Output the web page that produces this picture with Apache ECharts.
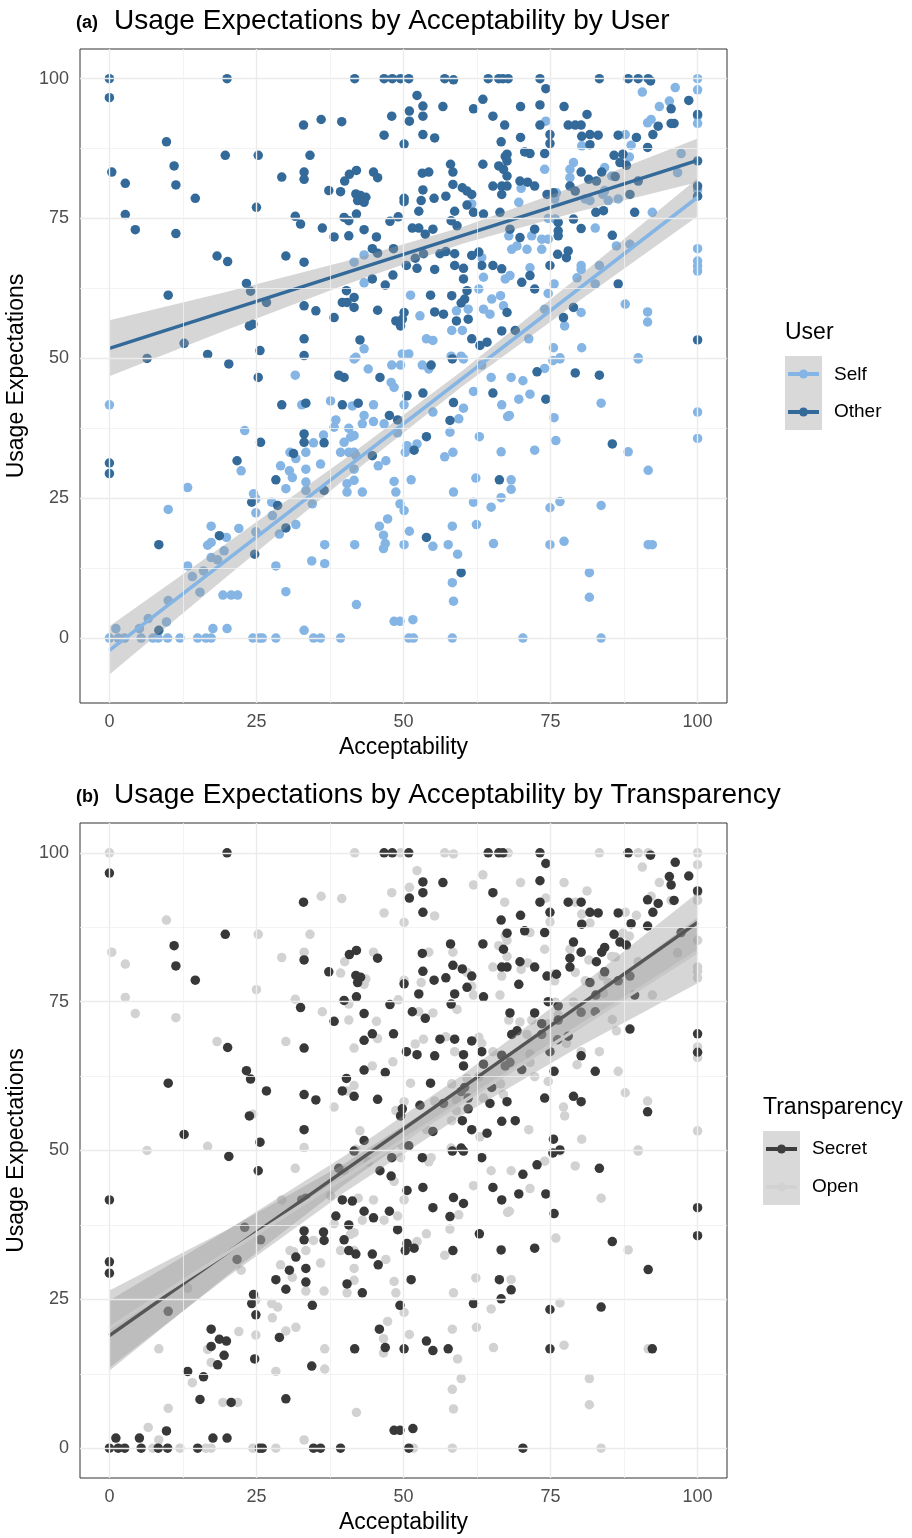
<!DOCTYPE html>
<html>
<head>
<meta charset="utf-8">
<script src="https://cdn.jsdelivr.net/npm/echarts@6/dist/echarts.min.js"></script>
<style>
html, body { margin: 0; padding: 0; background: #fff; }
#main { width: 912px; height: 1538px; }
</style>
</head>
<body>
<div id="main"></div>
<script>
// panel (a): points by user
let selfPts = [
    [61.6,77.6],[43.3,68.5],[41.6,67.2],[43.3,63.5],[51.2,61.3],[52.8,57.6],[53.9,53.5],[55,53.2],[58.2,55],[60,55],[59,58.5],[61,58.8],[62.8,62.4],[63.6,64.5],[63.3,68],[65,60.6],[66.5,61.2],[67.3,64.2],[63.6,58.8],[64.7,57.9],[67,59.4],[49.8,50.8],[50.9,50.8],[43.3,51.7],[41.9,50.2],[58.1,50.4],[59.8,50.4],
    [100,100],[100,98],[90.6,97.6],[96.2,98.4],[95.2,96],[93.5,95],[92.1,92.7],[91.5,92.1],[100,93.3],[100,92],[74.2,92.4],[80.3,88],[87.7,90],[88.7,88.1],[88.4,86],[97.2,86.6],[96.6,83.2],[78.9,85],[78.3,83.8],[78.3,82.3],[74,83.8],[84.2,84.1],[85.4,82.6],[84.2,80],[84.8,78.2],[86.5,78.5],[83.9,79.3],[69.6,77.9],[70,80.4],[76,79.6],[75.7,78.5],[74.6,75],[75.8,74.9],[80.9,78.5],[81.7,78.2],[92.3,76.1],[100,80.1],[82.6,73.3],[67.9,71.9],[69.3,70.1],[71,69.5],[68.4,69.5],[71.8,71.9],[73.5,71.3],[74.6,71.3],[73.5,69.5],[71.5,66.2],[68.1,64.8],[86.2,70.1],[88.5,70.4],[80.2,66.6],[80.2,65.9],[79.5,64.4],[75.6,63.3],[74.6,61.6],[82.6,63.3],[83.3,66.6],[100,69.6],[100,67.4],[100,66.5],[100,65.6],[80.2,58.2],[77.4,55.8],[74,58.8],[87.7,59.7],[91.5,58.3],[91.5,56.5],[71.3,53.5],[75.5,51.9],[80.3,51.9],[76.6,50.1],[89.9,50.1],
    [0,41.7],[31.6,47],[32.7,41.7],[23,37.1],[30.7,33.2],[31.7,32.1],[29.1,30.8],[30.6,29.9],[31.1,28.7],[30,26.7],[22.4,29.9],[13.3,26.9],[24.5,25.8],[24.9,24.9],[24.9,22.4],[27.6,24.3],[10,23],[27.7,21.9],[17.3,20],[22,19.6],[19.9,18],[16.7,16.6],[17.3,17.1],[31.7,20.3],[19.5,15.6],[17.3,14.4],[18.4,14],[24.9,19],[28.9,18.6],[13.3,12.9],[28.3,12.9],[16,12],[14.1,11],[15.4,8.2],[19.3,7.7],[20.7,7.7],[21.8,7.7],[30,8.3],[10,6.7],[6.6,3.5],[9.7,2.9],[1.1,1.7],[17.6,1.7],[20,1.7],[5.1,1.7],[33.1,1.4],
    [0,0],[1.5,0],[2.6,0],[5.4,0],[7.4,0],[8.3,0],[9.9,0],[12,0],[15,0],[16.4,0],[17.3,0],[24.4,0],[25.5,0],[26,0],[28.3,0],
    [41.6,49.9],[44,48.1],[47.9,45.7],[48.4,44.8],[48,48.8],[49.5,48.8],[53.2,48.8],[54.3,48.1],[60.2,49.9],[61.9,44.1],[63.3,48.8],[64.9,46.6],[66.7,41.7],[67.7,39.6],[37.6,42.4],[41.3,41.5],[44.9,41.7],[43.3,39.8],[43,38.3],[38.5,39],[38.2,37.7],[40.7,37.5],[41.6,36.2],[39.9,35],[41,35.9],[44.9,38.7],[46.7,38.3],[49,36.7],[50.1,41.7],[55,40.4],[59.4,39.2],[60.2,41.1],[57.9,36.8],[62.9,36],[34.7,34.9],[36.4,36.3],[39.3,33.2],[40.7,33.2],[41.6,33.2],[41.9,32.6],[33.4,33.2],[33.4,30.2],[35.9,31.1],[45.7,30.8],[47,31.7],[50.6,34.4],[52.3,34.7],[50.3,33.2],[57,32.4],[58.4,33.2],
    [41.6,30.2],[40.4,27.6],[41.6,28.2],[43,26.1],[40.4,26.1],[33.4,27.9],[33.4,26.4],[34.5,24],[48.4,28],[51.3,28.3],[48.7,26.1],[49.4,24],[50.1,22.8],[47.3,21.3],[45.9,20],[46.6,18.4],[46.9,16.9],[46.6,16],[50.1,16.7],[51,19.1],[55,16.4],[58.3,20],[57.6,16.7],[59.2,15],[58.5,26.1],[61.9,24.3],[62.4,20.3],[64.9,23.4],[66.6,25.1],[65.3,16.9],[66.6,33.3],[62.3,28.6],[36.6,16.7],[34.4,13.8],[36.6,13.3],[41.7,16.7],[42,6],[58.3,9.9],[58.5,6.6],[48.4,3],[49.4,3],[51.6,3.3],[34.7,0],[35.9,0],[39.3,0],[50.9,0],[51.7,0],[58.3,0],
    [68.3,46.6],[70.3,46],[74,48.2],[75.4,49.6],[76.6,49.9],[89.9,49.9],[69.6,42.7],[71.5,43.6],[68,39.8],[75.6,39.4],[83.6,42],[100,40.4],[100,35.7],[75.9,35.3],[72.3,33.6],[88.2,33.3],[91.6,30],[68.3,28.3],[68.3,26.6],[74.9,23.3],[76.6,24.4],[83.6,23.7],[74.9,16.7],[77.3,17.3],[91.6,16.7],[92.3,16.7],[81.6,11.7],[81.6,7.3],[70.3,0],[83.6,0]
];
let otherPts = [
    [0,100],[0,96.6],[20,100],[33,91.7],[9.7,88.7],[19.7,86.3],[25.3,86.3],[11,84.4],[0.4,83.3],[2.7,81.3],[11.3,81],[29.3,82.4],[33.1,83.3],[33.1,82],[14.6,78.6],[25,77],[2.7,75.7],[4.4,73],[11.3,72.3],[31.6,75.4],[32.5,74],[18.3,68.3],[20.1,67.3],[30,68.3],[33.1,67.2],[23.3,63.4],[24,62],[26.7,60],[10,61.3],[23.8,55.8],[24.4,56.1],[12.7,52.7],[16.7,50.7],[25.6,51.4],[6.4,50],[33.1,59.4],[33.1,53.5],[33.1,50.5],
    [41.7,100],[46.7,100],[48.1,100],[49.5,100],[50.9,100],[57,100],[58.5,99.8],[64.4,100],[66.2,100],[66.9,100],[67.8,100],[52.3,97],[53.3,95.1],[53.3,93.3],[51,94.2],[51,92.4],[48,93.3],[56.7,95],[63.5,96.3],[61.9,94.6],[65.2,93.3],[67.2,91.7],[36,92.7],[39.5,92.3],[46.7,89.9],[50.1,88.3],[53.3,90],[55.3,89.4],[66.6,88.7],[34.1,86.3],[40.8,82.9],[42,83.6],[40,81.7],[44.9,83.3],[45.6,82.3],[37.3,80],[39.3,79.8],[41.9,79.4],[42.7,79.1],[43.6,78.8],[42.2,78.2],[43.3,77.9],[50.1,78.6],[50.1,78],[53.3,80.1],[53,78.2],[55.2,78.6],[57.2,79],[58,84.7],[58.4,83.3],[53.2,83.1],[54.3,83.3],[63.5,84.7],[66.2,84.4],[67,83.8],[67.3,86.1],[58.4,81.1],[60,80.5],[60.8,79.9],[61.6,79.3],[65.2,80.8],[66.7,80.8],[66.7,79.3],
    [39.9,75.2],[40.7,74.6],[42,75.8],[36.2,73.3],[38.2,71.7],[40.7,71.9],[43.3,73],[45.4,71.7],[47.7,74.5],[49.1,75.3],[52.6,76.3],[51.5,73.3],[52.6,73.3],[53.7,72.2],[55,73.1],[58.7,76.3],[58.1,74.6],[59.1,73.7],[60.8,77.4],[61.9,76.1],[63.6,75.8],[66.4,76.1],[44.7,69.6],[45.6,68.8],[48.3,69.6],[50.5,66.6],[52,67.9],[52.3,66.1],[53.4,68.7],[55.3,65.9],[56.2,68.7],[57.2,69.1],[58.7,68.7],[58.7,66.6],[60.2,66.1],[61.6,68.4],[62.8,69],[63.3,66.6],[65.2,66.6],[66.7,66],[44.7,64.2],[46.9,63.1],[48.2,64.9],[60.2,64.2],[60.8,62.1],[60.4,60.6],[39.6,60],[40.4,60],[41.6,59.1],[41.6,60.9],[40.3,62.1],[35.1,58.5],[38.2,57.3],[45.6,58.6],[48.7,56.7],[49.8,57],[49.5,55.8],[50.1,58.2],[54.6,61.3],[55.3,58.3],[56.8,57.9],[58.2,61.2],[59.8,59.9],[59,56.7],[61,57],[61.6,53.5],[63,52.3],[64.2,52.9],[42.6,53.3],[66.7,54.9],
    [73.2,100],[83.3,100],[88.2,100],[89.9,100],[91.6,100],[92,99.6],[74.2,98.2],[69.9,95],[73.2,95.3],[77.3,95],[73.2,91.7],[81.2,93.6],[78,91.7],[79.2,91.7],[80.2,91.7],[74.9,90],[74.9,88.4],[69.9,89.5],[80.3,89.7],[81.7,90],[83.1,89.9],[81.7,88.2],[86.5,89.9],[89.6,89.5],[91.5,87.7],[92.4,90],[93.3,91.5],[95.5,94.6],[96,92],[95.5,92],[98.5,96.1],[100,93.6],[67.6,86.5],[67.6,85.3],[70.6,86.9],[71.5,86.6],[74,86.6],[85.8,86.3],[87.3,86.5],[86.8,85],[87.9,84.5],[100,85.3],[80.2,83.3],[81.5,82],[82.8,81.7],[83.7,83.3],[86,82.5],[69.8,81.7],[71.1,81.5],[72.3,80.8],[67.6,82.6],[67.6,80.8],[78.3,80.8],[79.2,79.9],[74.4,79.3],[75.5,79.6],[88.5,79.3],[89.9,81.7],[100,80.8],[100,79],
    [82.7,76.1],[84,76.4],[89.3,76.1],[68.1,73.1],[69.8,71.6],[72.3,73.1],[76.3,74.3],[76.3,72.8],[76.3,71.9],[78.9,74.9],[80.2,73.2],[85.5,72],[76.2,68.6],[77.7,68],[78,69.2],[74.9,66.6],[71.5,64.8],[70.1,63.6],[72.3,62.4],[86.5,63.3],[78.9,59.1],[67.6,58.2],[77.2,57.3],[69,55],[100,53.3],
    [20.3,49],[25.3,46.6],[29.3,41.7],[33.1,36.5],[33.1,35],[25.7,35],[0,31.3],[0,29.4],[21.7,31.7],[31.3,33],[28.3,28.3],[24.2,24.3],[28.6,23.7],[30,19.7],[18.7,18.3],[8.4,16.7],[24.7,15],[8.4,1.4],
    [39,47],[39.9,46.6],[46,46.6],[50.6,43.3],[53.3,43.8],[54.7,48.8],[58.3,49.9],[65.2,43.8],[39.6,41.7],[42.3,42],[33.4,42],[47.6,39.8],[49,39],[58.5,42.1],[57.9,38.9],[53.9,36],[44.7,32.6],[51.8,33.6],[36.5,34.9],[36.5,26.4],[66.3,28.3],[53.9,18],[59.8,11.7],
    [72.7,47.6],[79.2,47.4],[83.3,47],[74.2,42.7],[85.5,34.7]
];

// panel (b): the same answers, split by transparency
let secretPts = [
    [0,96.6],[20,100],[33,91.7],[19.7,86.3],[11,84.4],[11.3,81],[33.1,82],[14.6,78.6],[32.5,74],[20.1,67.3],[33.1,67.2],[23.3,63.4],[24,62],[26.7,60],[10,61.3],[23.8,55.8],[12.7,52.7],[25.6,51.4],[33.1,59.4],[33.1,53.5],
    [46.7,100],[48.1,100],[50.9,100],[64.4,100],[66.2,100],[66.9,100],[53.3,95.1],[53.3,93.3],[51,92.4],[56.7,95],[65.2,93.3],[53.3,90],[66.6,88.7],[40.8,82.9],[42,83.6],[45.6,82.3],[37.3,80],[41.9,79.4],[42.7,79.1],[42.2,78.2],[50.1,78],[53.3,80.1],[55.2,78.6],[57.2,79],[58,84.7],[53.2,83.1],[63.5,84.7],[67,83.8],[58.4,81.1],[60,80.5],[61.6,79.3],[66.7,80.8],
    [39.9,75.2],[42,75.8],[38.2,71.7],[43.3,73],[47.7,74.5],[52.6,76.3],[51.5,73.3],[53.7,72.2],[58.7,76.3],[58.1,74.6],[60.8,77.4],[63.6,75.8],[44.7,69.6],[48.3,69.6],[50.5,66.6],[52.3,66.1],[55.3,65.9],[56.2,68.7],[58.7,68.7],[60.2,66.1],[61.6,68.4],[63.3,66.6],[66.7,66],[46.9,63.1],[60.2,64.2],[60.4,60.6],[39.6,60],[41.6,59.1],[40.3,62.1],[35.1,58.5],[45.6,58.6],[49.8,57],[49.5,55.8],[54.6,61.3],[56.8,57.9],[59.8,59.9],[61,57],[61.6,53.5],[64.2,52.9],[66.7,54.9],
    [73.2,100],[88.2,100],[92,99.6],[74.2,98.2],[73.2,95.3],[73.2,91.7],[78,91.7],[80.2,91.7],[74.9,90],[69.9,89.5],[81.7,90],[83.1,89.9],[86.5,89.9],[91.5,87.7],[92.4,90],[93.3,91.5],[95.5,94.6],[96,92],[98.5,96.1],[100,93.6],[67.6,86.5],[70.6,86.9],[74,86.6],[85.8,86.3],[86.8,85],[87.9,84.5],[80.2,83.3],[82.8,81.7],[83.7,83.3],[69.8,81.7],[72.3,80.8],[67.6,80.8],[78.3,80.8],[74.4,79.3],[88.5,79.3],
    [82.7,76.1],[89.3,76.1],[68.1,73.1],[72.3,73.1],[76.3,74.3],[76.3,71.9],[80.2,73.2],[76.2,68.6],[78,69.2],[74.9,66.6],[70.1,63.6],[78.9,59.1],[67.6,58.2],[69,55],
    [20.3,49],[25.3,46.6],[33.1,36.5],[33.1,35],[25.7,35],[0,31.3],[0,29.4],[21.7,31.7],[28.3,28.3],[24.2,24.3],[18.7,18.3],[24.7,15],
    [39,47],[46,46.6],[50.6,43.3],[53.3,43.8],[58.3,49.9],[65.2,43.8],[39.6,41.7],[33.4,42],[47.6,39.8],[58.5,42.1],[57.9,38.9],[44.7,32.6],[51.8,33.6],[36.5,34.9],[66.3,28.3],[53.9,18],
    [72.7,47.6],[83.3,47],[74.2,42.7],[85.5,34.7],
    [43.3,68.5],[43.3,63.5],[52.8,57.6],[55,53.2],[60,55],[61,58.8],[63.6,64.5],[65,60.6],[67.3,64.2],[64.7,57.9],[50.9,50.8],[43.3,51.7],[59.8,50.4],
    [96.2,98.4],[95.2,96],[91.5,92.1],[80.3,88],[88.7,88.1],[97.2,86.6],[78.9,85],[78.3,82.3],[84.2,84.1],[84.2,80],[86.5,78.5],[69.6,77.9],[76,79.6],[74.6,75],[81.7,78.2],[82.6,73.3],[69.3,70.1],[68.4,69.5],[73.5,71.3],[73.5,69.5],[68.1,64.8],[88.5,70.4],[80.2,65.9],[75.6,63.3],[82.6,63.3],[100,69.6],[100,66.5],[80.2,58.2],[74,58.8],[91.5,56.5],[75.5,51.9],[76.6,50.1],
    [0,41.7],[32.7,41.7],[23,37.1],[31.7,32.1],[30.6,29.9],[30,26.7],[24.5,25.8],[24.9,22.4],[10,23],[17.3,20],[19.9,18],[17.3,17.1],[19.5,15.6],[18.4,14],[28.9,18.6],[13.3,12.9],[16,12],[15.4,8.2],[20.7,7.7],[30,8.3],[9.7,2.9],[1.1,1.7],[17.6,1.7],[20,1.7],[5.1,1.7],
    [0,0],[1.5,0],[2.6,0],[5.4,0],[8.3,0],[9.9,0],[15,0],[25.5,0],[26,0],
    [41.6,49.9],[47.9,45.7],[48,48.8],[53.2,48.8],[60.2,49.9],[63.3,48.8],[66.7,41.7],[41.3,41.5],[43.3,39.8],[38.5,39],[40.7,37.5],[39.9,35],[44.9,38.7],[49,36.7],[55,40.4],[60.2,41.1],[62.9,36],[36.4,36.3],[40.7,33.2],[41.9,32.6],[33.4,30.2],[45.7,30.8],[50.6,34.4],[50.3,33.2],[58.4,33.2],
    [40.4,27.6],[43,26.1],[33.4,27.9],[34.5,24],[51.3,28.3],[49.4,24],[45.9,20],[46.9,16.9],[50.1,16.7],[55,16.4],[57.6,16.7],[61.9,24.3],[66.6,25.1],[66.6,33.3],[34.4,13.8],[41.7,16.7],[48.4,3],[49.4,3],[51.6,3.3],[34.7,0],[35.9,0],[39.3,0],[50.9,0],
    [70.3,46],[75.4,49.6],[69.6,42.7],[75.6,39.4],[100,40.4],[100,35.7],[72.3,33.6],[91.6,30],[68.3,26.6],[74.9,23.3],[83.6,23.7],[74.9,16.7],[92.3,16.7],[70.3,0]
];
let openPts = [
    [0,100],[9.7,88.7],[25.3,86.3],[0.4,83.3],[2.7,81.3],[29.3,82.4],[33.1,83.3],[25,77],[2.7,75.7],[4.4,73],[11.3,72.3],[31.6,75.4],[18.3,68.3],[30,68.3],[24.4,56.1],[16.7,50.7],[6.4,50],[33.1,50.5],
    [41.7,100],[49.5,100],[57,100],[58.5,99.8],[67.8,100],[52.3,97],[51,94.2],[48,93.3],[63.5,96.3],[61.9,94.6],[67.2,91.7],[36,92.7],[39.5,92.3],[46.7,89.9],[50.1,88.3],[55.3,89.4],[34.1,86.3],[40,81.7],[44.9,83.3],[39.3,79.8],[43.6,78.8],[43.3,77.9],[50.1,78.6],[53,78.2],[58.4,83.3],[54.3,83.3],[66.2,84.4],[67.3,86.1],[60.8,79.9],[65.2,80.8],[66.7,79.3],
    [40.7,74.6],[36.2,73.3],[40.7,71.9],[45.4,71.7],[49.1,75.3],[52.6,73.3],[55,73.1],[59.1,73.7],[61.9,76.1],[66.4,76.1],[45.6,68.8],[52,67.9],[53.4,68.7],[57.2,69.1],[58.7,66.6],[62.8,69],[65.2,66.6],[44.7,64.2],[48.2,64.9],[60.8,62.1],[40.4,60],[41.6,60.9],[38.2,57.3],[48.7,56.7],[50.1,58.2],[55.3,58.3],[58.2,61.2],[59,56.7],[63,52.3],[42.6,53.3],
    [83.3,100],[89.9,100],[91.6,100],[69.9,95],[77.3,95],[81.2,93.6],[79.2,91.7],[74.9,88.4],[80.3,89.7],[81.7,88.2],[89.6,89.5],[95.5,92],[67.6,85.3],[71.5,86.6],[87.3,86.5],[100,85.3],[81.5,82],[86,82.5],[71.1,81.5],[67.6,82.6],[79.2,79.9],[75.5,79.6],[89.9,81.7],[100,80.8],[100,79],
    [84,76.4],[69.8,71.6],[76.3,72.8],[78.9,74.9],[85.5,72],[77.7,68],[71.5,64.8],[72.3,62.4],[86.5,63.3],[77.2,57.3],[100,53.3],
    [29.3,41.7],[31.3,33],[28.6,23.7],[30,19.7],[8.4,16.7],[8.4,1.4],
    [39.9,46.6],[54.7,48.8],[42.3,42],[49,39],[53.9,36],[36.5,26.4],[59.8,11.7],
    [79.2,47.4],
    [61.6,77.6],[41.6,67.2],[51.2,61.3],[53.9,53.5],[58.2,55],[59,58.5],[62.8,62.4],[63.3,68],[66.5,61.2],[63.6,58.8],[67,59.4],[49.8,50.8],[41.9,50.2],[58.1,50.4],
    [100,100],[100,98],[90.6,97.6],[93.5,95],[92.1,92.7],[100,93.3],[100,92],[74.2,92.4],[87.7,90],[88.4,86],[96.6,83.2],[78.3,83.8],[74,83.8],[85.4,82.6],[84.8,78.2],[83.9,79.3],[70,80.4],[75.7,78.5],[75.8,74.9],[80.9,78.5],[92.3,76.1],[100,80.1],[67.9,71.9],[71,69.5],[71.8,71.9],[74.6,71.3],[71.5,66.2],[86.2,70.1],[80.2,66.6],[79.5,64.4],[74.6,61.6],[83.3,66.6],[100,67.4],[100,65.6],[77.4,55.8],[87.7,59.7],[91.5,58.3],[71.3,53.5],[80.3,51.9],[89.9,50.1],
    [31.6,47],[30.7,33.2],[29.1,30.8],[31.1,28.7],[22.4,29.9],[13.3,26.9],[24.9,24.9],[27.6,24.3],[27.7,21.9],[22,19.6],[16.7,16.6],[31.7,20.3],[17.3,14.4],[24.9,19],[28.3,12.9],[14.1,11],[19.3,7.7],[21.8,7.7],[10,6.7],[6.6,3.5],[33.1,1.4],
    [7.4,0],[12,0],[16.4,0],[17.3,0],[24.4,0],[28.3,0],
    [44,48.1],[48.4,44.8],[49.5,48.8],[54.3,48.1],[61.9,44.1],[64.9,46.6],[67.7,39.6],[37.6,42.4],[44.9,41.7],[43,38.3],[38.2,37.7],[41.6,36.2],[41,35.9],[46.7,38.3],[50.1,41.7],[59.4,39.2],[57.9,36.8],[34.7,34.9],[39.3,33.2],[41.6,33.2],[33.4,33.2],[35.9,31.1],[47,31.7],[52.3,34.7],[57,32.4],
    [41.6,30.2],[41.6,28.2],[40.4,26.1],[33.4,26.4],[48.4,28],[48.7,26.1],[50.1,22.8],[47.3,21.3],[46.6,18.4],[46.6,16],[51,19.1],[58.3,20],[59.2,15],[58.5,26.1],[62.4,20.3],[64.9,23.4],[65.3,16.9],[62.3,28.6],[36.6,16.7],[36.6,13.3],[42,6],[58.3,9.9],[58.5,6.6],[51.7,0],[58.3,0],
    [68.3,46.6],[74,48.2],[76.6,49.9],[89.9,49.9],[71.5,43.6],[68,39.8],[83.6,42],[75.9,35.3],[88.2,33.3],[68.3,28.3],[76.6,24.4],[77.3,17.3],[91.6,16.7],[81.6,11.7],[81.6,7.3],[83.6,0]
];

// fitted lines and confidence bands
let fitX = [0, 100];
let selfFit = [-2.2, 78.8];
let otherFit = [51.8, 85.4];
let secretFit = [18.9, 88.3];
let openFit = [20.2, 83.4];

let bandX = [0, 20, 40, 60, 80, 100];
let selfLo = [-6.5, 11.0, 28.4, 45.0, 60.4, 75.4];
let selfHi = [2.1, 17.0, 32.0, 47.8, 64.8, 82.2];
let otherLo = [46.8, 55.1, 63.1, 70.5, 76.3, 81.5];
let otherHi = [56.8, 61.9, 67.3, 73.5, 81.1, 89.3];
let secretLo = [13.0, 29.0, 44.3, 58.3, 71.2, 83.3];
let secretHi = [24.8, 36.6, 49.1, 62.7, 77.6, 93.3];
let openLo = [13.5, 28.7, 43.0, 55.9, 67.5, 78.1];
let openHi = [26.5, 36.7, 47.8, 60.5, 74.3, 89.1];

let ticks = [0, 25, 50, 75, 100];
let minorTicks = [12.5, 37.5, 62.5, 87.5];

const colSelf = "#84B5E4";
const colOther = "#336A99";
const colSecret = "#383838";
const colOpen = "#D2D2D2";
const bandFill = "rgba(153,153,153,0.4)";
const font = "Liberation Sans, Arial, sans-serif";

let dom = document.getElementById("main");
let myChart = echarts.init(dom, null, { renderer: "canvas" });

function xAxisCfg(gi) {
    return {
        type: "value", gridIndex: gi, min: -5, max: 105,
        name: "Acceptability", nameLocation: "middle", nameGap: 33,
        nameTextStyle: { fontSize: 23, color: "#000", fontFamily: font },
        axisLine: { show: false },
        axisTick: { show: true, length: 6, customValues: ticks, lineStyle: { color: "#333" } },
        axisLabel: { customValues: ticks, fontSize: 18, color: "#4d4d4d", margin: 10, fontFamily: font },
        splitLine: { show: false },
    };
}
function yAxisCfg(gi, mn, mx) {
    return {
        type: "value", gridIndex: gi, min: mn, max: mx,
        name: "Usage Expectations", nameLocation: "middle", nameGap: 43,
        nameTextStyle: { fontSize: 23, color: "#000", fontFamily: font },
        axisLine: { show: false },
        axisTick: { show: true, length: 6, customValues: ticks, lineStyle: { color: "#333" } },
        axisLabel: { customValues: ticks, fontSize: 18, color: "#4d4d4d", margin: 11, fontFamily: font },
        splitLine: { show: false },
    };
}

function gridLines(gi) {
    let d = [];
    ticks.forEach(v => {
        d.push({ xAxis: v, lineStyle: { color: "#EBEBEB", width: 1.4, type: "solid" } });
        d.push({ yAxis: v, lineStyle: { color: "#EBEBEB", width: 1.4, type: "solid" } });
    });
    minorTicks.forEach(v => {
        d.push({ xAxis: v, lineStyle: { color: "#F0F0F0", width: 0.8, type: "solid" } });
        d.push({ yAxis: v, lineStyle: { color: "#F0F0F0", width: 0.8, type: "solid" } });
    });
    return {
        type: "scatter", xAxisIndex: gi, yAxisIndex: gi, data: [], z: 1, silent: true,
        markLine: { silent: true, symbol: "none", label: { show: false }, animation: false, data: d },
    };
}

function pointSeries(gi, pts, color) {
    return {
        type: "scatter", xAxisIndex: gi, yAxisIndex: gi, data: pts, symbolSize: 9.5, z: 2,
        itemStyle: { color: color, opacity: 1 }, silent: true,
    };
}

function bandSeries(gi, lo, hi) {
    return {
        type: "custom", xAxisIndex: gi, yAxisIndex: gi, data: [[0, 0]], z: 3, silent: true,
        renderItem: function (params, api) {
            let pts = [];
            bandX.forEach((x, i) => pts.push(api.coord([x, hi[i]])));
            for (let i = bandX.length - 1; i >= 0; i--) pts.push(api.coord([bandX[i], lo[i]]));
            return { type: "polygon", shape: { points: pts }, style: { fill: bandFill } };
        },
    };
}

function fitSeries(gi, fit, color) {
    return {
        type: "line", xAxisIndex: gi, yAxisIndex: gi, showSymbol: false, z: 4, silent: true,
        data: fitX.map((x, i) => [x, fit[i]]),
        lineStyle: { color: color, width: 3.5 },
    };
}

function legendKey(x, y, color) {
    return [
        { type: "line", shape: { x1: x + 3, y1: y, x2: x + 34, y2: y }, style: { stroke: color, lineWidth: 4 } },
        { type: "circle", shape: { cx: x + 18.5, cy: y, r: 4.5 }, style: { fill: color } },
    ];
}

function titleText(x, y, tag, text) {
    return [
        { type: "text", left: x, top: y + 7, style: { text: tag, font: "bold 18px " + font, fill: "#000" } },
        { type: "text", left: x + 38, top: y, style: { text: text, font: "28px " + font, fill: "#000" } },
    ];
}

let graphics = [].concat(
    titleText(76, 7, "(a)", "Usage Expectations by Acceptability by User"),
    titleText(76, 781, "(b)", "Usage Expectations by Acceptability by Transparency"),
    [
        { type: "text", left: 785, top: 321, style: { text: "User", font: "23px " + font, fill: "#000" } },
        { type: "rect", shape: { x: 785, y: 356, width: 37, height: 74 }, style: { fill: "#D9D9D9" } },
        { type: "text", left: 834, top: 365, style: { text: "Self", font: "19px " + font, fill: "#000" } },
        { type: "text", left: 834, top: 402, style: { text: "Other", font: "19px " + font, fill: "#000" } },
        { type: "text", left: 763, top: 1096, style: { text: "Transparency", font: "23px " + font, fill: "#000" } },
        { type: "rect", shape: { x: 763, y: 1131, width: 37, height: 74 }, style: { fill: "#D9D9D9" } },
        { type: "text", left: 812, top: 1139, style: { text: "Secret", font: "19px " + font, fill: "#000" } },
        { type: "text", left: 812, top: 1177, style: { text: "Open", font: "19px " + font, fill: "#000" } },
    ],
    legendKey(785, 374, colSelf),
    legendKey(785, 412, colOther),
    legendKey(763, 1149, "#3d3d3d"),
    legendKey(763, 1187, colOpen)
);

let option = {
    animation: false,
    backgroundColor: "#fff",
    textStyle: { fontFamily: font },
    grid: [
        { left: 80, top: 49, width: 647, height: 654, show: true, borderColor: "#333", borderWidth: 1, backgroundColor: "#fff", containLabel: false, outerBoundsMode: "none" },
        { left: 80, top: 823, width: 647, height: 655, show: true, borderColor: "#333", borderWidth: 1, backgroundColor: "#fff", containLabel: false, outerBoundsMode: "none" },
    ],
    xAxis: [xAxisCfg(0), xAxisCfg(1)],
    yAxis: [yAxisCfg(0, -11.6, 105.3), yAxisCfg(1, -5, 105)],
    graphic: graphics,
    series: [
        gridLines(0),
        pointSeries(0, selfPts, colSelf),
        pointSeries(0, otherPts, colOther),
        bandSeries(0, selfLo, selfHi),
        fitSeries(0, selfFit, colSelf),
        bandSeries(0, otherLo, otherHi),
        fitSeries(0, otherFit, colOther),
        gridLines(1),
        pointSeries(1, openPts, colOpen),
        pointSeries(1, secretPts, colSecret),
        bandSeries(1, secretLo, secretHi),
        fitSeries(1, secretFit, "#555555"),
        bandSeries(1, openLo, openHi),
        fitSeries(1, openFit, "#C8C8C8"),
    ],
};

if (option && typeof option === "object") {
    myChart.setOption(option);
}

window.addEventListener("resize", myChart.resize);
</script>
</body>
</html>
